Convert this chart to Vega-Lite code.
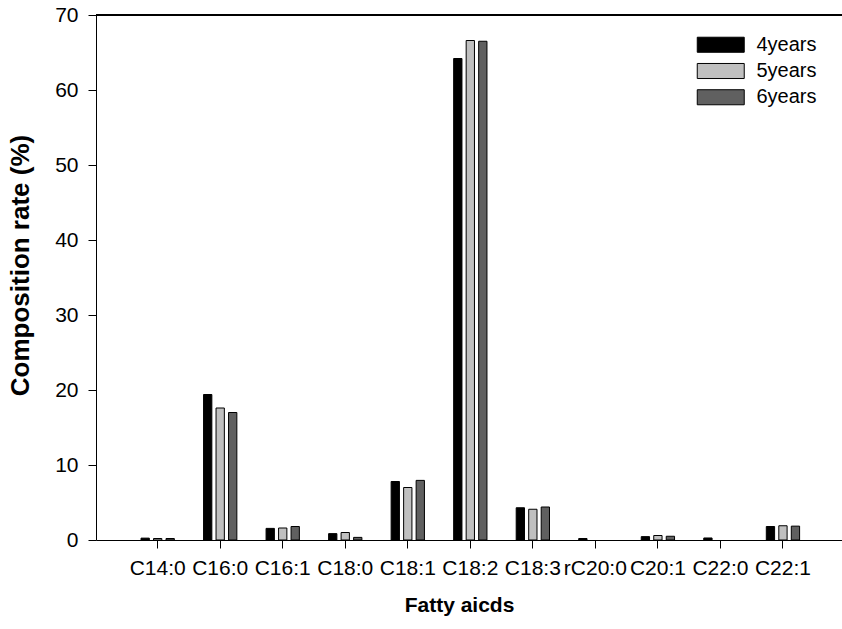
{
  "$schema": "https://vega.github.io/schema/vega-lite/v6.json",
  "width": 746,
  "height": 525,
  "autosize": {"type": "none"},
  "padding": {"left": 96, "top": 15, "right": 0, "bottom": 89},
  "background": "white",
  "config": {
    "view": {"stroke": null},
    "font": "Liberation Sans",
    "axis": {
      "domainColor": "black",
      "domainWidth": 1,
      "tickColor": "black",
      "tickWidth": 1,
      "tickSize": 8,
      "labelColor": "black",
      "labelFont": "Liberation Sans",
      "labelFontSize": 21,
      "titleColor": "black",
      "titleFont": "Liberation Sans",
      "titleFontSize": 21,
      "titleFontWeight": "bold",
      "grid": false
    },
    "legend": {
      "labelFont": "Liberation Sans",
      "labelFontSize": 20,
      "labelColor": "black"
    }
  },
  "data": {
    "values": [
      {"acid": "C14:0", "age": "4years", "rate": 0.25},
      {"acid": "C14:0", "age": "5years", "rate": 0.2},
      {"acid": "C14:0", "age": "6years", "rate": 0.2},
      {"acid": "C16:0", "age": "4years", "rate": 19.4},
      {"acid": "C16:0", "age": "5years", "rate": 17.6},
      {"acid": "C16:0", "age": "6years", "rate": 17.0},
      {"acid": "C16:1", "age": "4years", "rate": 1.55},
      {"acid": "C16:1", "age": "5years", "rate": 1.6},
      {"acid": "C16:1", "age": "6years", "rate": 1.8},
      {"acid": "C18:0", "age": "4years", "rate": 0.85},
      {"acid": "C18:0", "age": "5years", "rate": 1.0},
      {"acid": "C18:0", "age": "6years", "rate": 0.35},
      {"acid": "C18:1", "age": "4years", "rate": 7.8},
      {"acid": "C18:1", "age": "5years", "rate": 7.0},
      {"acid": "C18:1", "age": "6years", "rate": 7.95},
      {"acid": "C18:2", "age": "4years", "rate": 64.2},
      {"acid": "C18:2", "age": "5years", "rate": 66.6},
      {"acid": "C18:2", "age": "6years", "rate": 66.5},
      {"acid": "C18:3", "age": "4years", "rate": 4.3},
      {"acid": "C18:3", "age": "5years", "rate": 4.1},
      {"acid": "C18:3", "age": "6years", "rate": 4.4},
      {"acid": "rC20:0", "age": "4years", "rate": 0.2},
      {"acid": "C20:1", "age": "4years", "rate": 0.45},
      {"acid": "C20:1", "age": "5years", "rate": 0.6},
      {"acid": "C20:1", "age": "6years", "rate": 0.5},
      {"acid": "C22:0", "age": "4years", "rate": 0.27},
      {"acid": "C22:1", "age": "4years", "rate": 1.8},
      {"acid": "C22:1", "age": "5years", "rate": 1.9},
      {"acid": "C22:1", "age": "6years", "rate": 1.85}
    ]
  },
  "layer": [
    {
      "mark": {"type": "bar", "stroke": "black", "strokeWidth": 1},
      "encoding": {
        "x": {
          "field": "acid",
          "type": "nominal",
          "sort": null,
          "scale": {"paddingInner": 0.4675, "paddingOuter": 0.699, "align": 0.515},
          "axis": {
            "title": "Fatty aicds",
            "labelAngle": 0,
            "labelPadding": 9,
            "titleX": 363,
            "titleY": 65,
            "titleBaseline": "middle"
          }
        },
        "xOffset": {
          "field": "age",
          "type": "nominal",
          "scale": {"domain": ["4years", "5years", "6years"], "paddingInner": 0.336, "paddingOuter": 0}
        },
        "y": {
          "field": "rate",
          "type": "quantitative",
          "scale": {"domain": [0, 70], "nice": false},
          "axis": {
            "title": "Composition rate (%)",
            "titleFontSize": 26,
            "values": [0, 10, 20, 30, 40, 50, 60, 70],
            "labelPadding": 10,
            "titleX": -76,
            "titleY": 250,
            "titleBaseline": "middle"
          }
        },
        "color": {
          "field": "age",
          "type": "nominal",
          "scale": {"domain": ["4years", "5years", "6years"], "range": ["#000000", "#c0c0c0", "#606060"]},
          "legend": {
            "title": null,
            "orient": "none",
            "legendX": 612.25,
            "legendY": 17.25,
            "symbolType": "M-2,-0.64H2V0.64H-2Z",
            "symbolSize": 552,
            "symbolStrokeColor": "black",
            "symbolStrokeWidth": 1,
            "symbolOpacity": 1,
            "labelOffset": 23.25,
            "rowPadding": 3.25
          }
        }
      }
    },
    {
      "mark": {"type": "rule", "color": "black", "strokeWidth": 1},
      "encoding": {"y": {"datum": 70}}
    }
  ]
}
